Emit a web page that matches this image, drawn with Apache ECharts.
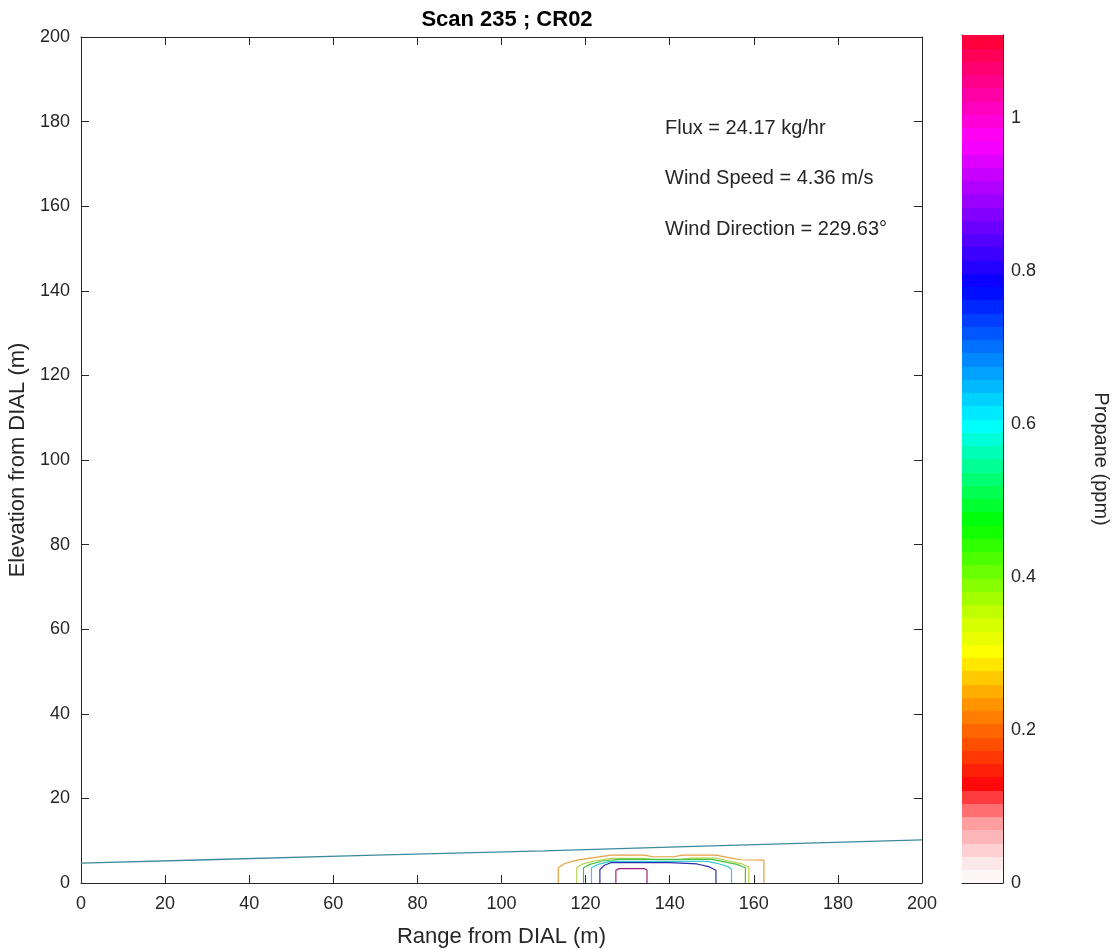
<!DOCTYPE html>
<html>
<head>
<meta charset="utf-8">
<script src="https://cdn.jsdelivr.net/npm/echarts@6/dist/echarts.min.js"></script>
<style>
  html, body { margin: 0; padding: 0; background: #fff; }
  #chart { width: 1118px; height: 949px; }
</style>
</head>
<body>
<div id="chart"></div>
<script>
// axis ticks
const xTicks = [0, 20, 40, 60, 80, 100, 120, 140, 160, 180, 200]
const yTicks = [0, 20, 40, 60, 80, 100, 120, 140, 160, 180, 200]
const cbTicks = [0, 0.2, 0.4, 0.6, 0.8, 1]
const cbMax = 1.108

// colormap stops [value, colour]
const cmapStops = [
  [0.00, '#ffffff'],
  [0.03, '#fde4e6'],
  [0.08, '#ff9a9c'],
  [0.13, '#ff0a0a'],
  [0.19, '#ff5a00'],
  [0.24, '#ff9c00'],
  [0.30, '#ffff00'],
  [0.35, '#c8ff00'],
  [0.47, '#00ff00'],
  [0.60, '#00ffff'],
  [0.78, '#0000ff'],
  [0.89, '#9900ff'],
  [0.97, '#ff00ff'],
  [1.108, '#ff0030']
]
const cmapBands = 64

// plume edge line (range, elevation)
const edgeLine = [[0, 4.7], [30, 5.5], [70, 6.6], [110, 7.6], [150, 8.8], [200, 10.2]]

// contour polylines (range, elevation), outer to inner
const contourColors = ['#e6a040', '#b8d24a', '#46c246', '#3cc8d4', '#2c2cb0', '#a0207e']
const contourLines = [
  [[113.5, 0], [113.5, 3.6], [115, 4.6], [118, 5.4], [122, 6.0], [126, 6.6], [134, 6.6], [136, 6.2], [141, 6.2], [143, 6.6], [151, 6.6], [154, 6.0], [157, 5.5], [162.4, 5.4], [162.4, 0]],
  [[117.9, 0], [117.9, 3.6], [119, 4.4], [122, 5.2], [126, 5.8], [134, 5.8], [137, 5.5], [142, 5.5], [145, 5.9], [151, 5.9], [154, 5.2], [157, 4.6], [158.8, 3.8], [158.8, 0]],
  [[119.5, 0], [119.5, 3.6], [121, 4.4], [124, 5.2], [128, 5.6], [150, 5.6], [153, 5.0], [156, 4.4], [158, 3.6], [158, 0]],
  [[121.4, 0], [121.4, 3.6], [123, 4.4], [126, 5.1], [149, 5.1], [151.5, 4.6], [154, 3.8], [154.7, 3.2], [154.7, 0]],
  [[123.4, 0], [123.4, 3.2], [124.5, 4.2], [126, 4.8], [140, 4.8], [146.5, 4.5], [149.5, 3.8], [151, 3.0], [151, 0]],
  [[127.2, 0], [127.2, 3.0], [128, 3.4], [134, 3.4], [134.6, 3.0], [134.6, 0]]
]

const annotations = ['Flux = 24.17 kg/hr', 'Wind Speed = 4.36 m/s', 'Wind Direction = 229.63°']

const FONT = 'Liberation Sans, Arial, sans-serif'
const INK = '#262626'

// colour interpolation for the colorbar bands
const hexToRgb = (h) => [1, 3, 5].map(i => parseInt(h.slice(i, i + 2), 16))
const cmapColor = (v) => {
  for (let i = 0; i < cmapStops.length - 1; i++) {
    const [v0, c0] = cmapStops[i]
    const [v1, c1] = cmapStops[i + 1]
    if (v <= v1) {
      const t = Math.max(0, (v - v0) / (v1 - v0))
      const a = hexToRgb(c0), b = hexToRgb(c1)
      const rgb = a.map((x, k) => Math.round(x + (b[k] - x) * t))
      return 'rgb(' + rgb.join(',') + ')'
    }
  }
  return cmapStops[cmapStops.length - 1][1]
}

const bandData = []
for (let i = 0; i < cmapBands; i++) {
  const lo = i * cbMax / cmapBands
  const hi = (i + 1) * cbMax / cmapBands
  bandData.push([lo, hi, (lo + hi) / 2])
}

const chart = echarts.init(document.getElementById('chart'))

const axisLine = { show: true, onZero: false, lineStyle: { color: INK, width: 1 } }
const tickInside = { show: true, inside: true, length: 8, lineStyle: { color: INK } }
const labelStyle = { color: INK, fontSize: 18, fontFamily: FONT }
const noTick = { show: false }
const noLabel = { show: false }
const noSplit = { show: false }

const option = {
  animation: false,
  backgroundColor: '#fff',
  title: {
    text: 'Scan 235 ; CR02',
    left: 502,
    top: 4,
    textAlign: 'center',
    textStyle: { fontSize: 22, fontWeight: 'bold', color: '#000', fontFamily: FONT }
  },
  grid: [
    { left: 81, right: 196, top: 37, bottom: 66, containLabel: false, outerBoundsMode: 'none' },
    { left: 962, width: 41, top: 35, bottom: 66, containLabel: false, outerBoundsMode: 'none' }
  ],
  xAxis: [
    {
      gridIndex: 0, type: 'value', min: 0, max: 200, interval: 20, position: 'bottom',
      axisLine, axisTick: tickInside, splitLine: noSplit,
      axisLabel: { ...labelStyle, margin: 12, formatter: (v) => xTicks.includes(v) ? String(v) : '' },
      name: 'Range from DIAL (m)', nameLocation: 'middle', nameGap: 43,
      nameTextStyle: { color: INK, fontSize: 22, fontFamily: FONT }
    },
    {
      gridIndex: 0, type: 'value', min: 0, max: 200, interval: 20, position: 'top',
      axisLine, axisTick: tickInside, axisLabel: noLabel, splitLine: noSplit
    },
    {
      gridIndex: 1, type: 'value', min: 0, max: 1, position: 'bottom',
      axisLine, axisTick: noTick, axisLabel: noLabel, splitLine: noSplit
    },
    {
      gridIndex: 1, type: 'value', min: 0, max: 1, position: 'top',
      axisLine, axisTick: noTick, axisLabel: noLabel, splitLine: noSplit
    }
  ],
  yAxis: [
    {
      gridIndex: 0, type: 'value', min: 0, max: 200, interval: 20, position: 'left',
      axisLine, axisTick: tickInside, splitLine: noSplit,
      axisLabel: { ...labelStyle, margin: 11, formatter: (v) => yTicks.includes(v) ? String(v) : '' },
      name: 'Elevation from DIAL (m)', nameLocation: 'middle', nameGap: 45, nameRotate: 90,
      nameTextStyle: { color: INK, fontSize: 22, fontFamily: FONT }
    },
    {
      gridIndex: 0, type: 'value', min: 0, max: 200, interval: 20, position: 'right',
      axisLine, axisTick: tickInside, axisLabel: noLabel, splitLine: noSplit
    },
    {
      gridIndex: 1, type: 'value', min: 0, max: cbMax, interval: 0.2, position: 'right',
      axisLine, axisTick: { show: true, inside: true, length: 6, lineStyle: { color: INK } },
      splitLine: noSplit,
      axisLabel: {
        ...labelStyle, margin: 8, showMaxLabel: false,
        formatter: (v) => {
          const hit = cbTicks.find(t => Math.abs(t - v) < 1e-6)
          return hit === undefined ? '' : String(hit)
        }
      },
      name: 'Propane (ppm)', nameLocation: 'middle', nameGap: 88, nameRotate: -90,
      nameTextStyle: { color: INK, fontSize: 20, fontFamily: FONT }
    },
    {
      gridIndex: 1, type: 'value', min: 0, max: cbMax, position: 'left',
      axisLine, axisTick: noTick, axisLabel: noLabel, splitLine: noSplit
    }
  ],
  graphic: annotations.map((t, i) => ({
    type: 'text',
    x: 665,
    y: 128 + i * 50.5,
    style: { text: t, fontSize: 20, fontFamily: FONT, fill: INK, verticalAlign: 'middle' }
  })),
  series: [
    {
      type: 'custom',
      xAxisIndex: 2,
      yAxisIndex: 2,
      data: bandData,
      silent: true,
      z: 1,
      renderItem: (params, api) => {
        const p0 = api.coord([0, api.value(1)])
        const p1 = api.coord([1, api.value(0)])
        return {
          type: 'rect',
          shape: { x: p0[0], y: Math.floor(p0[1]), width: p1[0] - p0[0], height: Math.ceil(p1[1]) - Math.floor(p0[1]) },
          style: { fill: cmapColor(api.value(2)) }
        }
      }
    },
    {
      type: 'line',
      xAxisIndex: 0,
      yAxisIndex: 0,
      data: edgeLine,
      showSymbol: false,
      lineStyle: { color: '#3d8a9c', width: 1.3 }
    },
    ...contourLines.map((pts, i) => ({
      type: 'line',
      xAxisIndex: 0,
      yAxisIndex: 0,
      data: pts,
      showSymbol: false,
      lineStyle: { color: contourColors[i], width: 1.2 }
    }))
  ]
}

chart.setOption(option)
</script>
</body>
</html>
